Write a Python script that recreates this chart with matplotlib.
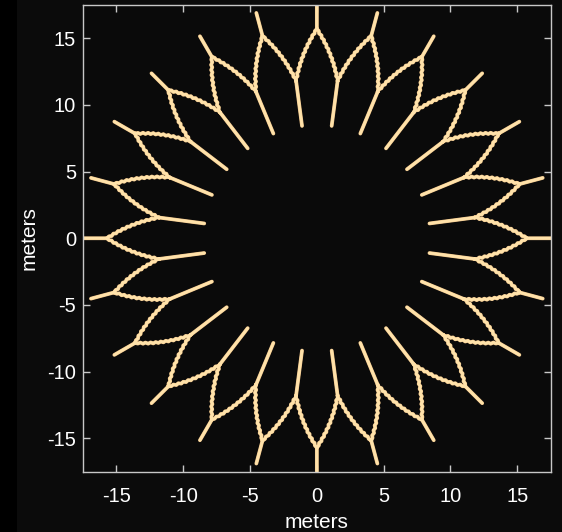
import numpy as np
import matplotlib
matplotlib.use("Agg")
import matplotlib.pyplot as plt
from matplotlib.patches import Rectangle

# ---- data ----
tip_angles = [0, 15, 30, 45, 60, 75, 90, 105, 120, 135, 150, 165,
              180, 195, 210, 225, 240, 255, 270, 285, 300, 315, 330, 345]
junction_angles = [7.5, 22.5, 37.5, 52.5, 67.5, 82.5, 97.5, 112.5,
                   127.5, 142.5, 157.5, 172.5, 187.5, 202.5, 217.5, 232.5,
                   247.5, 262.5, 277.5, 292.5, 307.5, 322.5, 337.5, 352.5]
stem_radii = [8.5, 11.9]         # inner stem: start and junction radius
branch_radius_end = 15.7         # where two neighbouring branches merge
tip_radii = [15.7, 17.5]         # outer stem up to the tip
branch_spread = 7.5              # degrees between junction and merge point
# sideways offset along each branch (meters): arch bulge plus small zig-zag
branch_offset = [0.0, 0.083, 0.028, 0.149, 0.086, 0.200, 0.130, 0.236,
                 0.159, 0.258, 0.173, 0.265, 0.173, 0.258, 0.159, 0.236,
                 0.130, 0.200, 0.086, 0.149, 0.028, 0.083, 0.0]

xticks = [-15, -10, -5, 0, 5, 10, 15]
yticks = [-15, -10, -5, 0, 5, 10, 15]


def polar(r, a_deg):
    a = np.deg2rad(a_deg)
    return np.asarray(r) * np.cos(a), np.asarray(r) * np.sin(a)


xs, ys = [], []


def add(x, y):
    xs.extend(list(np.atleast_1d(x)) + [np.nan])
    ys.extend(list(np.atleast_1d(y)) + [np.nan])


off = np.array(branch_offset)
frac = np.linspace(0, 1, len(off))
for aj in junction_angles:
    sx, sy = polar(stem_radii, aj)
    add(sx, sy)
    jx, jy = polar(stem_radii[1], aj)
    for sgn in (1, -1):
        mx, my = polar(branch_radius_end, aj + sgn * branch_spread)
        dx, dy = mx - jx, my - jy
        L = np.hypot(dx, dy)
        nx, ny = -dy / L, dx / L
        bx = jx + frac * dx - sgn * off * nx
        by = jy + frac * dy - sgn * off * ny
        add(bx, by)
for at in tip_angles:
    tx, ty = polar(tip_radii, at)
    add(tx, ty)

W, H = 562, 532
fig = plt.figure(figsize=(W / 100, H / 100), dpi=100, facecolor="#0b0b0b")
fig.patches.append(Rectangle((0, 0), 17 / W, 1, transform=fig.transFigure,
                             facecolor="#000000", edgecolor="none", zorder=-10))

ax = fig.add_axes([83 / W, (H - 471.5) / H, (550.7 - 83) / W, (471.5 - 5) / H])
ax.set_facecolor("#0a0a0a")

ax.plot(xs, ys, color="#eec48a", lw=2.7, solid_capstyle="round",
        solid_joinstyle="round")
ax.plot(xs, ys, color="#ffe2aa", lw=2.0, solid_capstyle="round",
        solid_joinstyle="round")

ax.set_xlim(-17.5, 17.5)
ax.set_ylim(-17.5, 17.5)
ax.set_xticks(xticks)
ax.set_yticks(yticks)
ax.set_xticklabels([str(t) for t in xticks])
ax.set_yticklabels([str(t) for t in yticks])

font = "Liberation Sans"
for s in ax.spines.values():
    s.set_color("#c8c8c8")
    s.set_linewidth(1.0)
ax.tick_params(direction="in", length=5, width=1, color="#c8c8c8",
               top=True, right=True, labelcolor="white", labelsize=14.5)
ax.tick_params(axis="x", pad=11)
ax.tick_params(axis="y", pad=5)
for lab in ax.get_xticklabels() + ax.get_yticklabels():
    lab.set_fontfamily(font)

ax.set_xlabel("meters", color="white", fontsize=15, fontfamily=font, labelpad=5)
ax.set_ylabel("meters", color="white", fontsize=15, fontfamily=font, labelpad=6)

fig.savefig("out.png", dpi=100, facecolor=fig.get_facecolor())
